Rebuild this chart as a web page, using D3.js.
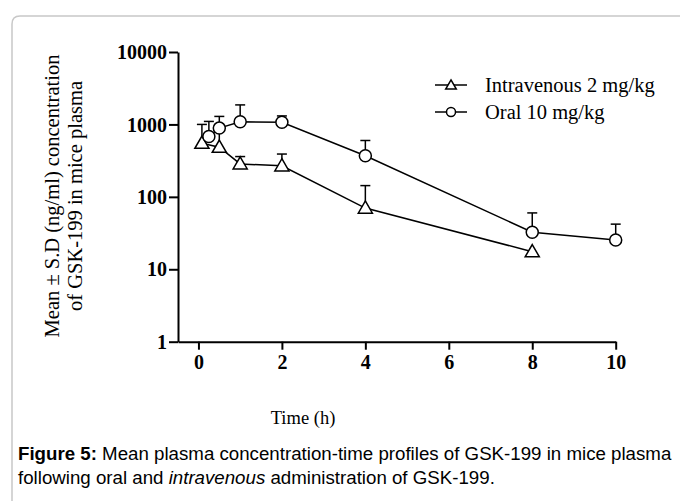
<!DOCTYPE html>
<html>
<head>
<meta charset="utf-8">
<script src="https://cdn.jsdelivr.net/npm/d3@7"></script>
<style>
  body { margin: 0; background: #fff; }
  svg { display: block; }
</style>
</head>
<body>
<svg width="680" height="501"></svg>
<script>
// data
const seriesNames = ["Intravenous 2 mg/kg", "Oral 10 mg/kg"];
const ivTime = [0.083, 0.5, 1, 2, 4, 8];
const ivMean = [550, 485, 285, 268, 70, 17.5];
const ivUpper = [1000, 870, 360, 390, 143, 17.5];
const oralTime = [0.25, 0.5, 1, 2, 4, 8, 10];
const oralMean = [680, 890, 1090, 1070, 370, 32.5, 25.4];
const oralUpper = [1100, 1290, 1860, 1310, 600, 60, 42];
const xTicks = [0, 2, 4, 6, 8, 10];
const yTicks = [1, 10, 100, 1000, 10000];

const svg = d3.select("svg");

// grey frame round the figure
svg.append("path")
    .attr("d", "M12,510 L12,24 Q12,16 20,16 L700,16")
    .attr("fill", "none")
    .attr("stroke", "#c8c8c8")
    .attr("stroke-width", 1.5);

const x = d3.scaleLinear().domain([-0.49, 10]).range([178, 615.7]);
const y = d3.scaleLog().domain([1, 10000]).range([341.7, 52]);

const axisFont = "'Liberation Serif', 'Times New Roman', serif";

// y axis
const yAxis = svg.append("g")
    .attr("transform", "translate(178,0)")
    .call(d3.axisLeft(y).tickValues(yTicks).tickFormat(d3.format("d")).tickSize(9).tickSizeOuter(0));
yAxis.select(".domain").attr("stroke", "#000").attr("stroke-width", 2);
yAxis.selectAll(".tick line").attr("stroke", "#000").attr("stroke-width", 2);
yAxis.selectAll(".tick text")
    .attr("font-family", axisFont)
    .attr("font-weight", "bold")
    .attr("font-size", 20)
    .attr("fill", "#000")
    .attr("x", -11)
    .attr("dy", "0.33em");

// x axis
const xAxis = svg.append("g")
    .attr("transform", "translate(0,341.7)")
    .call(d3.axisBottom(x).tickValues(xTicks).tickSize(8).tickSizeOuter(0));
xAxis.select(".domain").attr("stroke", "#000").attr("stroke-width", 2);
xAxis.selectAll(".tick line").attr("stroke", "#000").attr("stroke-width", 2);
xAxis.selectAll(".tick text")
    .attr("font-family", axisFont)
    .attr("font-weight", "bold")
    .attr("font-size", 20)
    .attr("fill", "#000")
    .attr("y", 13);

// axis titles
const yTitle = svg.append("text")
    .attr("transform", "translate(52,196) rotate(-90)")
    .attr("text-anchor", "middle")
    .attr("font-family", axisFont)
    .attr("font-size", 20.5);
yTitle.append("tspan").attr("x", 0).attr("dy", "0.35em").text("Mean \u00b1 S.D (ng/ml) concentration");
yTitle.append("tspan").attr("x", 0).attr("dy", "1.12em").text("of GSK-199 in mice plasma");

svg.append("text")
    .attr("x", 303)
    .attr("y", 424)
    .attr("text-anchor", "middle")
    .attr("font-family", axisFont)
    .attr("font-size", 18.5)
    .text("Time (h)");

// series
const series = [
    { name: seriesNames[0], shape: "tri", pts: ivTime.map((t, i) => ({ t, m: ivMean[i], u: ivUpper[i] })) },
    { name: seriesNames[1], shape: "circ", pts: oralTime.map((t, i) => ({ t, m: oralMean[i], u: oralUpper[i] })) }
];

const line = d3.line().x(d => x(d.t)).y(d => y(d.m));
const triPath = d3.symbol().type(d3.symbolTriangle);

function drawMarker(g, shape, size) {
    if (shape === "circ") {
        g.append("circle").attr("r", size).attr("fill", "#fff").attr("stroke", "#000").attr("stroke-width", 1.5);
    } else {
        g.append("path").attr("d", triPath.size(size * size * 2.4)())
            .attr("transform", "translate(0,1)")
            .attr("fill", "#fff").attr("stroke", "#000").attr("stroke-width", 1.5);
    }
}

series.forEach(s => {
    const g = svg.append("g");
    // error bars (upper half only)
    s.pts.forEach(p => {
        if (p.u > p.m) {
            g.append("line")
                .attr("x1", x(p.t)).attr("x2", x(p.t))
                .attr("y1", y(p.m)).attr("y2", y(p.u))
                .attr("stroke", "#000").attr("stroke-width", 1.5);
            g.append("line")
                .attr("x1", x(p.t) - 5).attr("x2", x(p.t) + 5)
                .attr("y1", y(p.u)).attr("y2", y(p.u))
                .attr("stroke", "#000").attr("stroke-width", 1.5);
        }
    });
});

series.forEach(s => {
    svg.append("path")
        .datum(s.pts)
        .attr("d", line)
        .attr("fill", "none")
        .attr("stroke", "#000")
        .attr("stroke-width", 1.5);
});

series.forEach(s => {
    s.pts.forEach(p => {
        const m = svg.append("g").attr("transform", `translate(${x(p.t)},${y(p.m)})`);
        drawMarker(m, s.shape, 6);
    });
});

// legend
series.forEach((s, i) => {
    const ly = 85 + i * 27;
    const lg = svg.append("g").attr("transform", `translate(435,${ly})`);
    lg.append("line").attr("x1", 0).attr("x2", 32).attr("stroke", "#000").attr("stroke-width", 1.5);
    const mk = lg.append("g").attr("transform", "translate(16,0)");
    drawMarker(mk, s.shape, 4.5);
    lg.append("text")
        .attr("x", 50)
        .attr("dy", "0.33em")
        .attr("font-family", axisFont)
        .attr("font-size", 20.5)
        .text(s.name);
});

// caption
const capFont = "'Liberation Sans', Arial, sans-serif";
const cap = svg.append("text")
    .attr("x", 18)
    .attr("y", 460)
    .attr("font-family", capFont)
    .attr("font-size", 18.7);
cap.append("tspan").attr("font-weight", "bold").text("Figure 5:");
cap.append("tspan").text(" Mean plasma concentration-time profiles of GSK-199 in mice plasma");
const cap2 = svg.append("text")
    .attr("x", 18)
    .attr("y", 484)
    .attr("font-family", capFont)
    .attr("font-size", 18.7);
cap2.append("tspan").text("following oral and ");
cap2.append("tspan").attr("font-style", "italic").text("intravenous");
cap2.append("tspan").text(" administration of GSK-199.");
</script>
</body>
</html>
